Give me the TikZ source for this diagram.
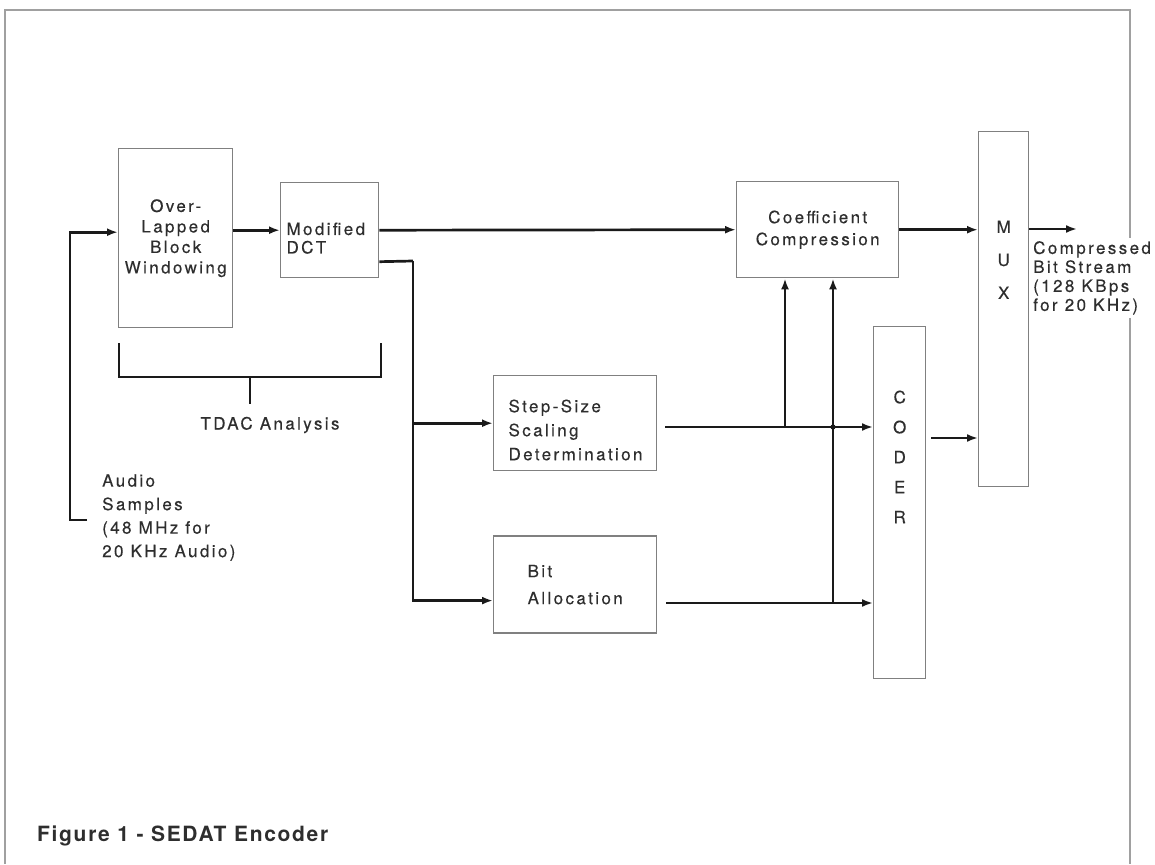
\documentclass[tikz,border=0pt]{standalone}
\usepackage{fontspec}
\newfontfamily\diagfont[LetterSpace=14,FakeBold=0.3]{TeX Gyre Heros}
\newfontfamily\capfont[LetterSpace=8]{TeX Gyre Heros}
\usetikzlibrary{arrows.meta,positioning}
\definecolor{FrameGray}{HTML}{A0A0A0}
\definecolor{BoxGray}{HTML}{808080}
\definecolor{InkText}{HTML}{2E2E2E}
\definecolor{InkLine}{HTML}{1A1A1A}

\begin{document}
\begin{tikzpicture}[
  x=1pt, y=-1pt,
  blk/.style={draw=BoxGray, line width=1.4pt, inner sep=0pt, anchor=north west, text=InkText},
  tx/.style={font={\diagfont\fontsize{17pt}{#1}\selectfont}, text=InkText},
  sig/.style={-{Latex[length=11pt,width=8pt]}, line width=2.7pt, color=InkLine},
  wire/.style={line width=2.7pt, color=InkLine}
]
  \useasboundingbox (0,0) rectangle (1155,864);
  \draw[FrameGray, line width=1.3pt] (5,864) -- (5,10) -- (1130,10) -- (1130,864);

  % blocks
  \node[blk, tx=20.5pt, align=center, minimum width=114pt, minimum height=179pt] (olbw) at (118,148)
    {Over-\\Lapped\\Block\\Windowing};
  \node[blk, minimum width=98pt, minimum height=95pt] (dct) at (280,182) {};
  \node[tx=18.5pt, align=left, anchor=north west] at ([xshift=3pt,yshift=-37pt]dct.north west)
    {Modified\\DCT};
  \node[blk, tx=22pt, align=center, minimum width=162pt, minimum height=96pt] (coef) at (736,181)
    {Coefficient\\Compression};
  \node[blk, minimum width=163pt, minimum height=95pt] (step) at (493,375) {};
  \node[tx=24pt, align=left, anchor=north west] at ([xshift=12pt,yshift=-21pt]step.north west)
    {Step-Size\\Scaling\\Determination};
  \node[blk, tx=27pt, align=left, minimum width=163pt, minimum height=97pt, below=64pt of step] (bit)
    {Bit\\Allocation};
  \node[blk, minimum width=52pt, minimum height=352pt] (coder) at (873,326) {};
  \node[blk, minimum width=50pt, minimum height=355pt] (mux) at (978,131) {};
  \node[tx=30pt, align=center, below=61pt of coder.north] {C\\O\\D\\E\\R};
  \node[tx=33pt, align=center, below=86pt of mux.north] {M\\U\\X};

  % labels
  \node[tx=20pt, align=center] (tdac) at (270,425) {TDAC Analysis};
  \node[tx=23.5pt, align=left, anchor=west, inner sep=0pt] (audio) at (102,517.5)
    {Audio\\Samples\\(48 MHz for\\20 KHz Audio)};
  \node[tx=19pt, align=left, anchor=north west, fill=white, inner xsep=0pt, inner ysep=3pt] (outlbl) at (1033,238)
    {Compressed\\Bit Stream\\(128 KBps\\for 20 KHz)};
  \node[anchor=west, inner sep=0pt, text=InkText, font={\capfont\bfseries\fontsize{21pt}{23pt}\selectfont}] (cap) at (37,836)
    {Figure 1 - SEDAT Encoder};

  % TDAC bracket
  \coordinate (brl) at (119,343);
  \coordinate (brr) at (381,343);
  \coordinate (brm) at (250,377);
  \draw[wire] (brl) -- (brl |- brm) -- (brr |- brm) -- (brr);
  \draw[wire] (brm) -- ([yshift=9pt]tdac.north -| brm);

  % signal path
  \coordinate (ain) at (87,520);
  \draw[sig] (ain) -- ++(-17,0) |- ([yshift=6pt]olbw.west);
  \draw[sig] (olbw.east |- dct.west) -- (dct.west);
  \draw[sig] (dct.east) -- (coef.west);
  \coordinate (tap) at (413,261);
  \draw[wire] ([yshift=-31.5pt]dct.east) -- (tap);
  \draw[sig] (tap) |- ([yshift=-16pt]bit.west);
  \draw[sig] (tap |- step.west) -- (step.west);

  \coordinate (stpout) at (665,427);
  \coordinate (bitout) at (666,603);
  \draw[sig] (stpout) -- (stpout -| coder.west);
  \draw[sig] (bitout) -- (bitout -| coder.west);
  \coordinate (j1) at (785,427);
  \coordinate (j2) at (833,603);
  \draw[sig] (j1) -- (j1 |- coef.south);
  \draw[sig] (j2) -- (j2 |- coef.south);
  \fill[InkLine] (j2 |- stpout) circle (2.6pt);

  \draw[sig] (coef.east) -- (coef.east -| mux.west);
  \coordinate (cdrout) at (931,438);
  \draw[sig] (cdrout) -- (cdrout -| mux.west);
  \coordinate (out) at (1077,229);
  \draw[sig] (mux.east |- out) -- (out);
\end{tikzpicture}
\end{document}
